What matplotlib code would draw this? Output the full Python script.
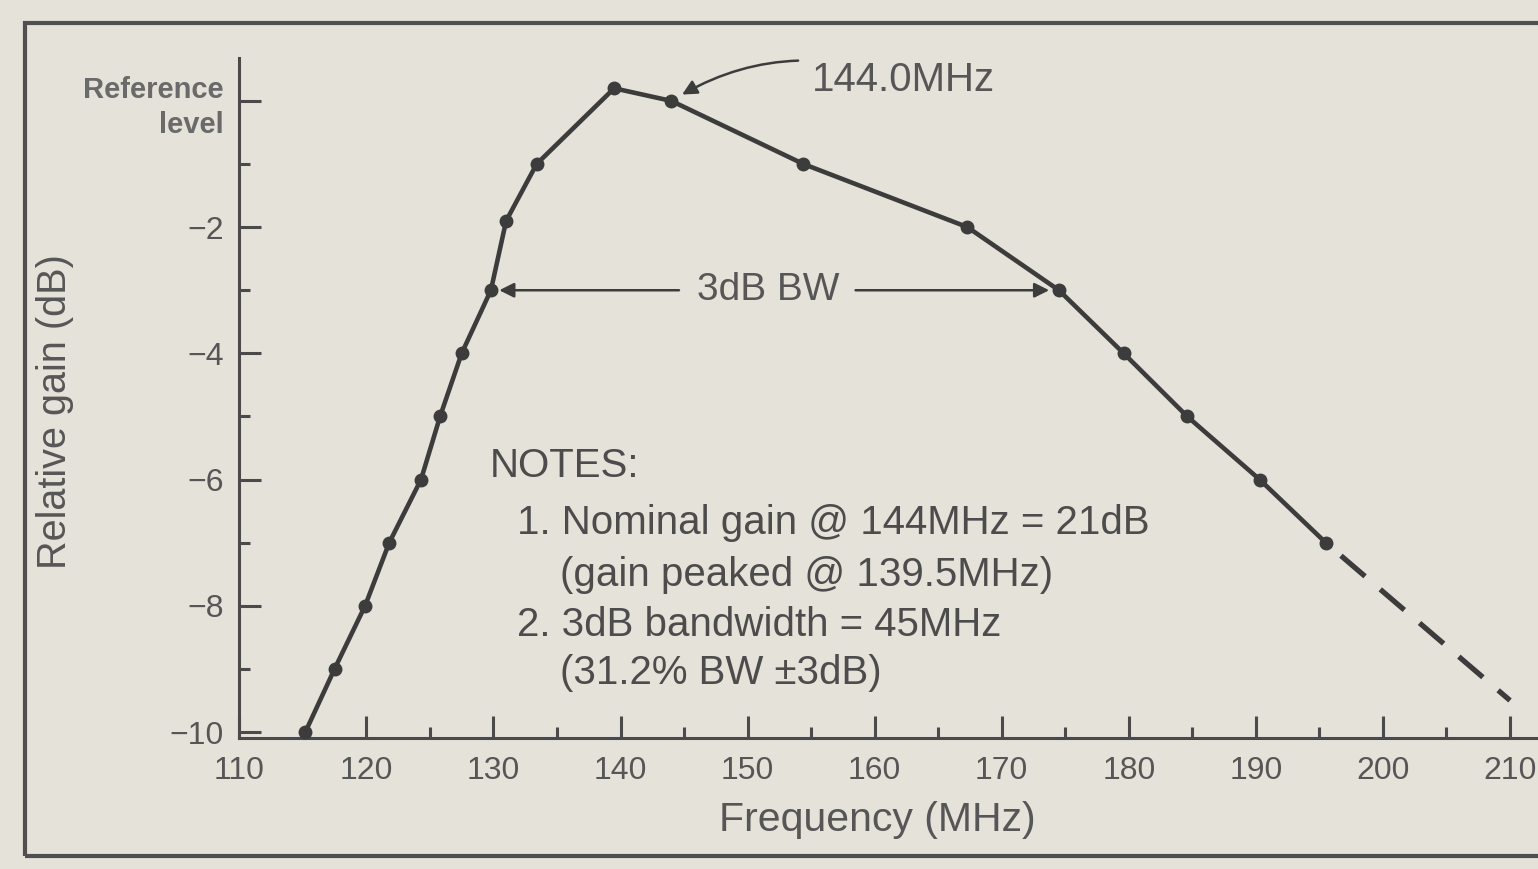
import matplotlib
matplotlib.use("Agg")
import matplotlib.pyplot as plt
from matplotlib.patches import Rectangle
from matplotlib.ticker import MultipleLocator

W, H = 1538, 869
BG = "#e5e2da"
INK = "#3c3c3c"
GREY = "#565656"
NARROW = ["Liberation Sans Narrow", "Liberation Sans", "DejaVu Sans"]
SANS = ["Liberation Sans", "DejaVu Sans"]

# measured amplifier response: frequency (MHz) vs gain relative to 144 MHz (dB)
freq = [115.2, 117.5, 119.9, 121.8, 124.3, 125.8, 127.5, 129.8, 131.0, 133.4,
        139.5, 144.0, 154.4, 167.3, 174.5, 179.6, 184.6, 190.3, 195.5]
gain = [-10, -9, -8, -7, -6, -5, -4, -3, -1.9, -1,
        0.2, 0, -1, -2, -3, -4, -5, -6, -7]
# extrapolated roll-off beyond the last measurement
tail_freq = [195.5, 210.0]
tail_gain = [-7, -9.5]

bw_lo, bw_hi = 129.8, 174.5
ref_freq = 144.0

y_ticks = [-10, -8, -6, -4, -2, 0]
y_labels = ["\u221210", "\u22128", "\u22126", "\u22124", "\u22122", "Reference\nlevel"]
notes = [
    ("NOTES:", 490, 466),
    ("1. Nominal gain @ 144MHz = 21dB", 517, 523),
    ("(gain peaked @ 139.5MHz)", 560, 575),
    ("2. 3dB bandwidth = 45MHz", 517, 625),
    ("(31.2% BW \u00b13dB)", 560, 673),
]


def fx(px):
    return px / W


def fy(py):
    return 1 - py / H


fig = plt.figure(figsize=(W / 100, H / 100), dpi=100, facecolor=BG)

# plot area in pixel terms: x spine at 738 px, y spine at 239 px
ax = fig.add_axes([fx(239.3), fy(738), 1 - fx(239.3), (738 - 58) / H])
ax.set_facecolor("none")
ax.set_xlim(110, 110 + (W - 239.3) / 12.707)
ax.set_ylim(-10.095, 0.68)

for side in ("top", "right"):
    ax.spines[side].set_visible(False)
for side in ("left", "bottom"):
    ax.spines[side].set_linewidth(2.2)
    ax.spines[side].set_color("#4a4a4a")

ax.xaxis.set_major_locator(MultipleLocator(10))
ax.xaxis.set_minor_locator(MultipleLocator(5))
ax.set_yticks(y_ticks)
ax.set_yticklabels(y_labels)
ax.yaxis.set_minor_locator(MultipleLocator(1))
ax.tick_params(which="major", direction="in", length=16, width=2.2, color="#4a4a4a",
               labelcolor=GREY, labelsize=23)
ax.tick_params(which="minor", direction="in", length=8, width=2.2, color="#4a4a4a")
ax.tick_params(axis="x", pad=13)
ax.tick_params(axis="y", pad=11)
for lab in ax.get_xticklabels() + ax.get_yticklabels():
    lab.set_family(NARROW)
ref_lab = ax.get_yticklabels()[-1]
ref_lab.set_fontsize(21)
ref_lab.set_fontweight("bold")
ref_lab.set_color("#6a6a6a")
ref_lab.set_linespacing(1.3)

ax.plot(freq, gain, color=INK, lw=3.3, marker="o", ms=9, mfc=INK, mec=INK,
        solid_joinstyle="round", clip_on=False, zorder=3)
ax.plot(tail_freq, tail_gain, color=INK, lw=3.8, linestyle=(6, (6, 3.8)),
        clip_on=False, zorder=3)

# 144 MHz reference marker
ax.annotate("144.0MHz", xy=(ref_freq, 0), xytext=(fx(812), fy(80)),
            textcoords="figure fraction", ha="left", va="center",
            fontsize=29, family=SANS, color=GREY,
            arrowprops=dict(arrowstyle="-|>", color=INK, lw=1.8, mutation_scale=22,
                            shrinkA=8, shrinkB=9,
                            connectionstyle="arc3,rad=0.25"))

# 3 dB bandwidth span
ax.text(151.6, -3, "3dB BW", ha="center", va="center", fontsize=28,
        family=SANS, color=GREY)
ax.annotate("", xy=(bw_lo, -3), xytext=(144.6, -3),
            arrowprops=dict(arrowstyle="-|>", color=INK, lw=1.8, mutation_scale=22,
                            shrinkA=0, shrinkB=6))
ax.annotate("", xy=(bw_hi, -3), xytext=(158.5, -3),
            arrowprops=dict(arrowstyle="-|>", color=INK, lw=1.8, mutation_scale=22,
                            shrinkA=0, shrinkB=7))

for text, px, py in notes:
    fig.text(fx(px), fy(py), text, ha="left", va="center", fontsize=29,
             family=SANS, color="#4c4c4c")

fig.text(fx(55), fy(412), "Relative gain (dB)", rotation=90, ha="center",
         va="center", fontsize=28.5, family=SANS, color=GREY)
fig.text(fx(877), fy(820), "Frequency (MHz)", ha="center", va="center",
         fontsize=29.5, family=SANS, color=GREY)

# outer frame, open on the right where it runs off the page
fig.patches.append(Rectangle((fx(25), fy(856)), fx(1600) - fx(25), fy(23) - fy(856),
                             transform=fig.transFigure, fill=False,
                             edgecolor="#505050", lw=3))

fig.savefig("out.png", dpi=100, facecolor=BG)
